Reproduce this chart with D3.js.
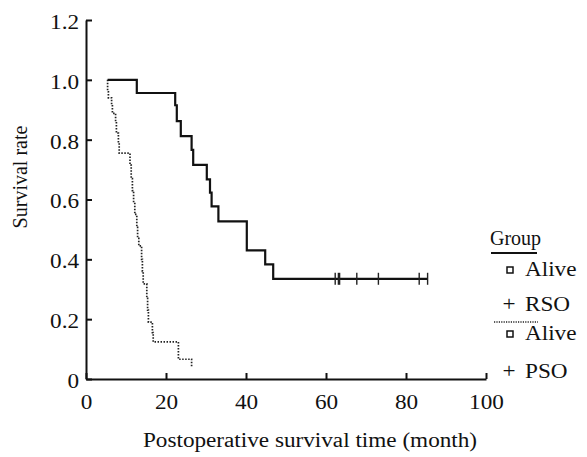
<!DOCTYPE html>
<html lang="en">
<head>
<meta charset="UTF-8">
<title>Survival curves</title>
<script src="https://d3js.org/d3.v7.min.js"></script>
<style>
  body { margin: 0; background: #fff; }
  svg { display: block; }
  .axis path, .axis line { stroke: #111; stroke-width: 2px; }
  .rso { fill: none; stroke: #111; stroke-width: 2.2px; }
  .pso { fill: none; stroke: #222; stroke-width: 1.7px; stroke-dasharray: 1.5 1.5; }
  .censor { stroke: #222; stroke-width: 1.4px; }
</style>
</head>
<body>
<script>
// RSO group (solid): start + event times and survival after each step
const rsoTime = [5.4, 12.7, 22.3, 22.7, 23.7, 26.4, 26.8, 30.2, 31.0, 31.4, 33.1, 40.2, 44.8, 46.8, 85.5];
const rsoSurv = [1.0, 0.956, 0.915, 0.862, 0.812, 0.766, 0.716, 0.667, 0.623, 0.577, 0.527, 0.430, 0.383, 0.335, 0.335];
const rsoCensor = [62.3, 63.1, 63.4, 67.7, 73.1, 83.3, 85.4];

// PSO group (dotted)
const psoTime = [5.4, 5.4, 5.6, 6.4, 6.6, 7.4, 7.6, 8.1, 8.3, 11.0, 11.3, 11.6, 11.9, 12.2, 12.7, 12.9, 13.2, 13.9, 14.1, 14.3, 15.2, 15.4, 15.6, 16.6, 16.8, 23.1, 26.4];
const psoSurv = [1.0, 0.96, 0.94, 0.917, 0.888, 0.86, 0.822, 0.79, 0.755, 0.715, 0.67, 0.63, 0.59, 0.55, 0.507, 0.47, 0.445, 0.40, 0.36, 0.318, 0.27, 0.23, 0.19, 0.155, 0.124, 0.066, 0.041];

const xTicks = [0, 20, 40, 60, 80, 100];
const yTicks = [0, 0.2, 0.4, 0.6, 0.8, 1.0, 1.2];

const width = 587, height = 457;
const FONT = "Liberation Serif";
const stretch = 1.16;   // the original type is wide

const svg = d3.select("body").append("svg")
    .attr("width", width).attr("height", height);

const x = d3.scaleLinear().domain([0, 100]).range([86, 486]);
const y = d3.scaleLinear().domain([0, 1.2]).range([379, 20]);

// wide serif label helper
function label(g, tx, ty, str, anchor, sx) {
  return g.append("text")
    .attr("transform", `translate(${tx},${ty}) scale(${sx || stretch},1)`)
    .attr("text-anchor", anchor || "start")
    .attr("font-family", FONT).attr("font-size", 20).attr("fill", "#111")
    .text(str);
}

// axes
const gx = svg.append("g").attr("class", "axis")
    .attr("transform", `translate(0,${y(0)})`)
    .call(d3.axisBottom(x).tickValues(xTicks).tickSizeInner(-6).tickSizeOuter(0).tickPadding(16));

const gy = svg.append("g").attr("class", "axis")
    .attr("transform", `translate(${x(0)},0)`)
    .call(d3.axisLeft(y).tickValues(yTicks).tickSizeInner(-6).tickSizeOuter(0).tickPadding(6)
        .tickFormat(d => d === 0 ? "0" : d3.format(".1f")(d)));

svg.selectAll(".axis text")
    .attr("font-family", FONT).attr("font-size", 20).attr("fill", "#111")
    .attr("transform", `scale(${stretch},1)`);
gy.selectAll("text").attr("dy", "0.42em");

// curves
const line = d3.line().curve(d3.curveStepAfter);
svg.append("path").attr("class", "pso")
    .attr("d", line(psoTime.map((t, i) => [x(t), y(psoSurv[i])])));
svg.append("path").attr("class", "rso")
    .attr("d", line(rsoTime.map((t, i) => [x(t), y(rsoSurv[i])])));

// censored marks
svg.append("g").selectAll("line").data(rsoCensor).enter().append("line")
    .attr("class", "censor")
    .attr("x1", d => x(d)).attr("x2", d => x(d))
    .attr("y1", y(0.335) - 6).attr("y2", y(0.335) + 6);

// axis titles
label(svg, 310, 447, "Postoperative survival time (month)", "middle");
svg.append("text")
    .attr("transform", "translate(27,177) rotate(-90)")
    .attr("text-anchor", "middle")
    .attr("font-family", FONT).attr("font-size", 20).attr("fill", "#111")
    .text("Survival rate");

// legend
const lg = svg.append("g");
label(lg, 490, 245, "Group", "start", 1.0);
lg.append("line").attr("x1", 491).attr("x2", 537).attr("y1", 253).attr("y2", 253)
    .attr("stroke", "#111").attr("stroke-width", 2);
lg.append("line").attr("x1", 494).attr("x2", 538).attr("y1", 322).attr("y2", 322)
    .attr("stroke", "#222").attr("stroke-width", 1.4).attr("stroke-dasharray", "1.2 1.2");

const items = [
  {sym: "sq", label: "Alive", y: 276},
  {sym: "+", label: "RSO", y: 311},
  {sym: "sq", label: "Alive", y: 340},
  {sym: "+", label: "PSO", y: 378}
];
items.forEach(d => {
  if (d.sym === "sq") {
    lg.append("rect").attr("x", 507).attr("y", d.y - 9).attr("width", 6).attr("height", 6)
      .attr("fill", "none").attr("stroke", "#111").attr("stroke-width", 1.5);
  } else {
    label(lg, 509, d.y, "+", "middle");
  }
  label(lg, 525, d.y, d.label);
});
</script>
</body>
</html>
